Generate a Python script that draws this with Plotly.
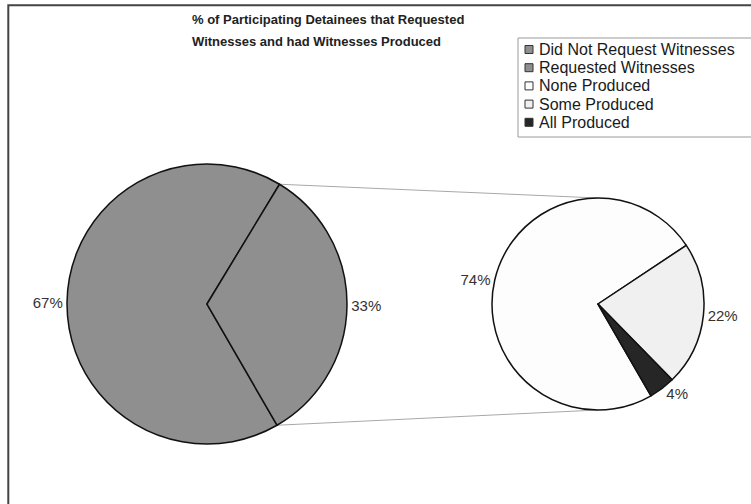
import math
import plotly.graph_objects as go

W, H = 751, 504

main_labels = ["Did Not Request Witnesses", "Requested Witnesses"]
main_values = [67, 33]
main_colors = ["#8f8f8f", "#8f8f8f"]

sub_labels = ["None Produced", "Some Produced", "All Produced"]
sub_values = [74, 22, 4]
sub_colors = ["#fdfdfd", "#f0f0f0", "#262626"]

title_lines = ["% of Participating Detainees that Requested",
               "Witnesses and had Witnesses Produced"]

FONT = "Liberation Sans, Arial, sans-serif"

# geometry (pixels)
L_CX, L_CY, L_R = 207, 304, 140
R_CX, R_CY, R_R = 598, 304, 106
START = 150  # degrees clockwise from 12 o'clock


def px(x):
    return x / W


def py(y):
    return 1 - y / H


def dom(cx, cy, r):
    return dict(x=[px(cx - r), px(cx + r)], y=[py(cy + r), py(cy - r)])


common = dict(sort=False, direction="clockwise", rotation=START,
              textinfo="percent", texttemplate="%{value}%", textposition="outside",
              outsidetextfont=dict(family=FONT, size=15, color="#333333"),
              hoverinfo="label+percent", showlegend=False)

fig = go.Figure()
fig.add_trace(go.Pie(labels=main_labels, values=main_values,
                     domain=dom(L_CX, L_CY, L_R),
                     marker=dict(colors=main_colors, line=dict(color="#111111", width=1.5)),
                     **common))
fig.add_trace(go.Pie(labels=sub_labels, values=sub_values,
                     domain=dom(R_CX, R_CY, R_R),
                     marker=dict(colors=sub_colors, line=dict(color="#111111", width=1.5)),
                     **common))

shapes = []
annotations = []

# connector lines from boundaries of the "Requested" wedge to the sub pie
tot = sum(main_values)
a_top = math.radians(START + 360 * main_values[0] / tot - 360)
a_bot = math.radians(START)
pts_left = [(L_CX + L_R * math.sin(a), L_CY - L_R * math.cos(a)) for a in (a_top, a_bot)]
pts_right = [(R_CX, R_CY - R_R), (R_CX, R_CY + R_R)]
for (x0, y0), (x1, y1) in zip(pts_left, pts_right):
    shapes.append(dict(type="line", xref="paper", yref="paper",
                       x0=px(x0), y0=py(y0), x1=px(x1), y1=py(y1),
                       line=dict(color="#a8a8a8", width=1), layer="below"))

# outer frame (top + left visible)
shapes.append(dict(type="rect", xref="paper", yref="paper",
                   x0=px(8.3), y0=-0.05, x1=1.05, y1=py(5.3),
                   line=dict(color="#444444", width=2)))

# title
for i, t in enumerate(title_lines):
    annotations.append(dict(text="<b>" + t + "</b>", xref="paper", yref="paper",
                            x=px(190), y=py(19.5 + i * 22.2), xanchor="left", yanchor="middle",
                            showarrow=False,
                            font=dict(family=FONT, size=13, color="#222222")))

# legend box (drawn manually to match the compact original spacing)
leg_labels = main_labels + sub_labels
leg_colors = main_colors + sub_colors
LB_X0, LB_Y0, LB_Y1 = 518, 38, 137
box_line = dict(color="#9a9a9a", width=1)
for seg in [(LB_X0, LB_Y0, W + 20, LB_Y0), (LB_X0, LB_Y1, W + 20, LB_Y1), (LB_X0, LB_Y0, LB_X0, LB_Y1)]:
    shapes.append(dict(type="line", xref="paper", yref="paper",
                       x0=px(seg[0]), y0=py(seg[1]), x1=px(seg[2]), y1=py(seg[3]), line=box_line))
for i, (lab, col) in enumerate(zip(leg_labels, leg_colors)):
    yc = 49.5 + i * 18.2
    shapes.append(dict(type="rect", xref="paper", yref="paper",
                       x0=px(525), x1=px(533), y0=py(yc + 4), y1=py(yc - 4),
                       line=dict(color="#333333", width=1), fillcolor=col))
    annotations.append(dict(text=lab, xref="paper", yref="paper",
                            x=px(537), y=py(yc), xanchor="left", yanchor="middle",
                            showarrow=False,
                            font=dict(family=FONT, size=16, color="#1a1a1a")))

fig.update_layout(
    width=W, height=H, autosize=False,
    margin=dict(l=0, r=0, t=0, b=0),
    paper_bgcolor="white", plot_bgcolor="white",
    shapes=shapes, annotations=annotations,
    showlegend=False,
)

fig.write_html("out.html", config={"displayModeBar": False},
               post_script="document.body.style.margin='0';document.body.style.overflow='hidden';")
